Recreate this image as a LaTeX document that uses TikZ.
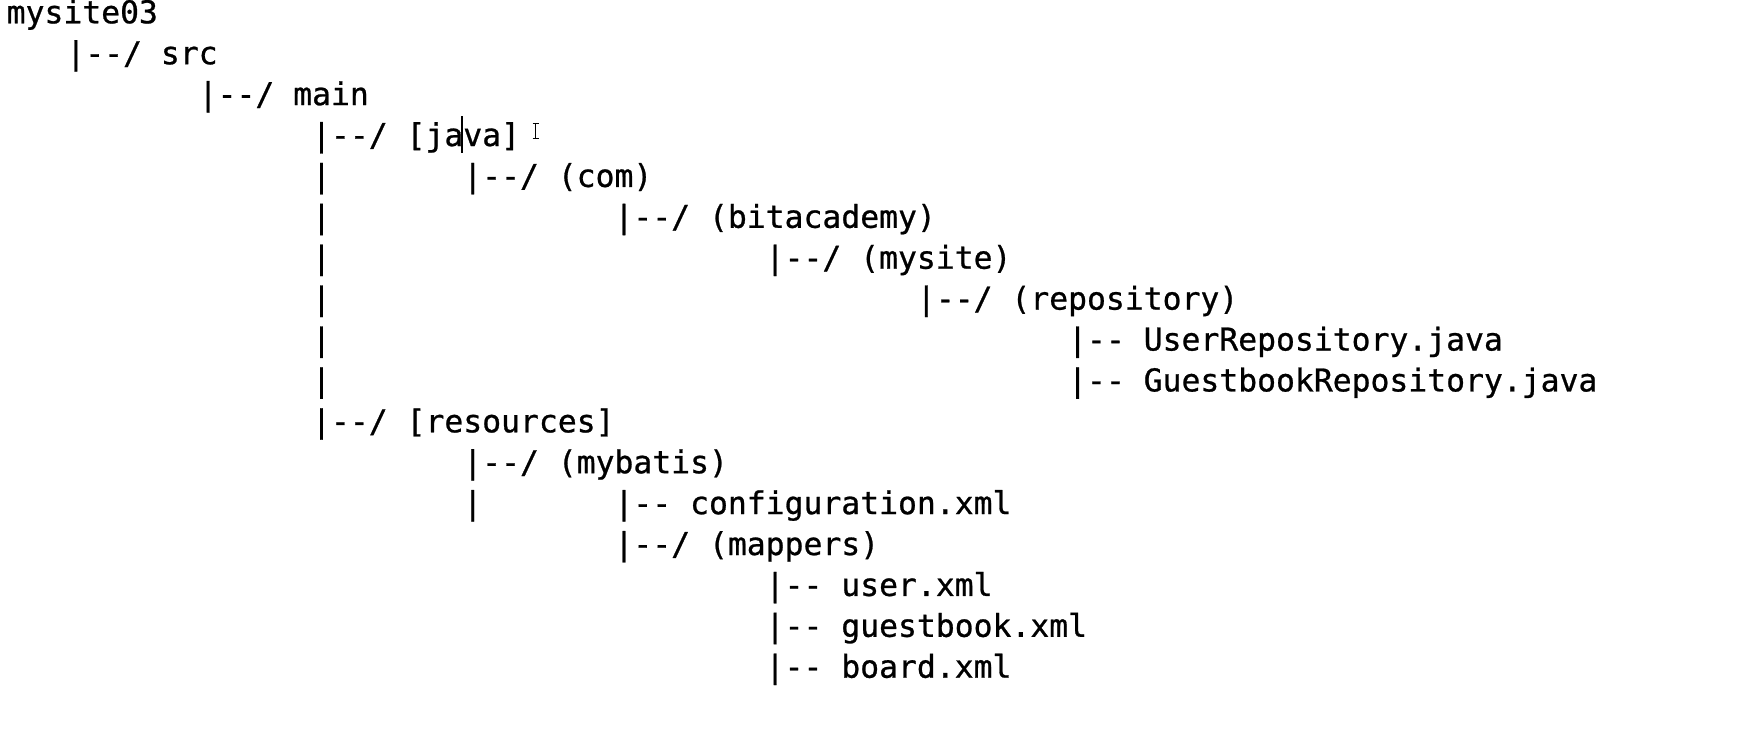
\documentclass[tikz,border=0pt]{standalone}
\usepackage{fontspec}
\setmonofont[FakeBold=0.8]{DejaVu Sans Mono}
\usetikzlibrary{positioning}

\newcommand{\dd}{-{}-}

\begin{document}
\begin{tikzpicture}[x=1pt, y=-1pt,
  entry/.style={anchor=base west, inner sep=0pt, font=\ttfamily\fontsize{31.4}{38}\selectfont}]
  \useasboundingbox (0,0) rectangle (1752,734);
  \def\cw{18.9}
  \def\lh{40.9}
  \def\xo{9.5}
  \def\yo{23.3}

  \node[entry] (Root) at ({\xo-3+0*\cw},{\yo+0*\lh}) {mysite03};
  \node[entry] (Src) at ({\xo+3*\cw},{\yo+1*\lh}) {|\dd/ src};
  \node[entry] (Main) at ({\xo+10*\cw},{\yo+2*\lh}) {|\dd/ main};
  \node[entry] (Java) at ({\xo+16*\cw},{\yo+3*\lh}) {|\dd/ [java]};
  \node[entry] (Com) at ({\xo+24*\cw},{\yo+4*\lh}) {|\dd/ (com)};
  \node[entry] (Bit) at ({\xo+32*\cw},{\yo+5*\lh}) {|\dd/ (bitacademy)};
  \node[entry] (Site) at ({\xo+40*\cw},{\yo+6*\lh}) {|\dd/ (mysite)};
  \node[entry] (Repo) at ({\xo+48*\cw},{\yo+7*\lh}) {|\dd/ (repository)};
  \node[entry] (UserRepo) at ({\xo+56*\cw},{\yo+8*\lh}) {|\dd{} UserRepository.java};
  \node[entry] (GuestRepo) at ({\xo+56*\cw},{\yo+9*\lh}) {|\dd{} GuestbookRepository.java};
  \node[entry] (Res) at ({\xo+16*\cw},{\yo+10*\lh}) {|\dd/ [resources]};
  \node[entry] (Mybatis) at ({\xo+24*\cw},{\yo+11*\lh}) {|\dd/ (mybatis)};
  \node[entry] (Conf) at ({\xo+32*\cw},{\yo+12*\lh}) {|\dd{} configuration.xml};
  \node[entry] (Mappers) at ({\xo+32*\cw},{\yo+13*\lh}) {|\dd/ (mappers)};
  \node[entry] (UserX) at ({\xo+40*\cw},{\yo+14*\lh}) {|\dd{} user.xml};
  \node[entry] (GuestX) at ({\xo+40*\cw},{\yo+15*\lh}) {|\dd{} guestbook.xml};
  \node[entry] (BoardX) at ({\xo+40*\cw},{\yo+16*\lh}) {|\dd{} board.xml};

  % lone bars of the java and mybatis branches
  \foreach \r in {4,...,9}
    \node[entry] (JavaBar\r) at ({\xo+16*\cw},{\yo+\r*\lh}) {|};
  \node[entry] (MybatisBar) at ({\xo+24*\cw},{\yo+12*\lh}) {|};

  % text caret and mouse pointer
  \draw[line width=1.6pt] (462,116) -- (462,153);
  \draw[line width=1.1pt] (535.7,123.5) -- (535.7,138.5)
    (532.5,123.5) -- (538.9,123.5) (532.5,138.5) -- (538.9,138.5);
\end{tikzpicture}
\end{document}
